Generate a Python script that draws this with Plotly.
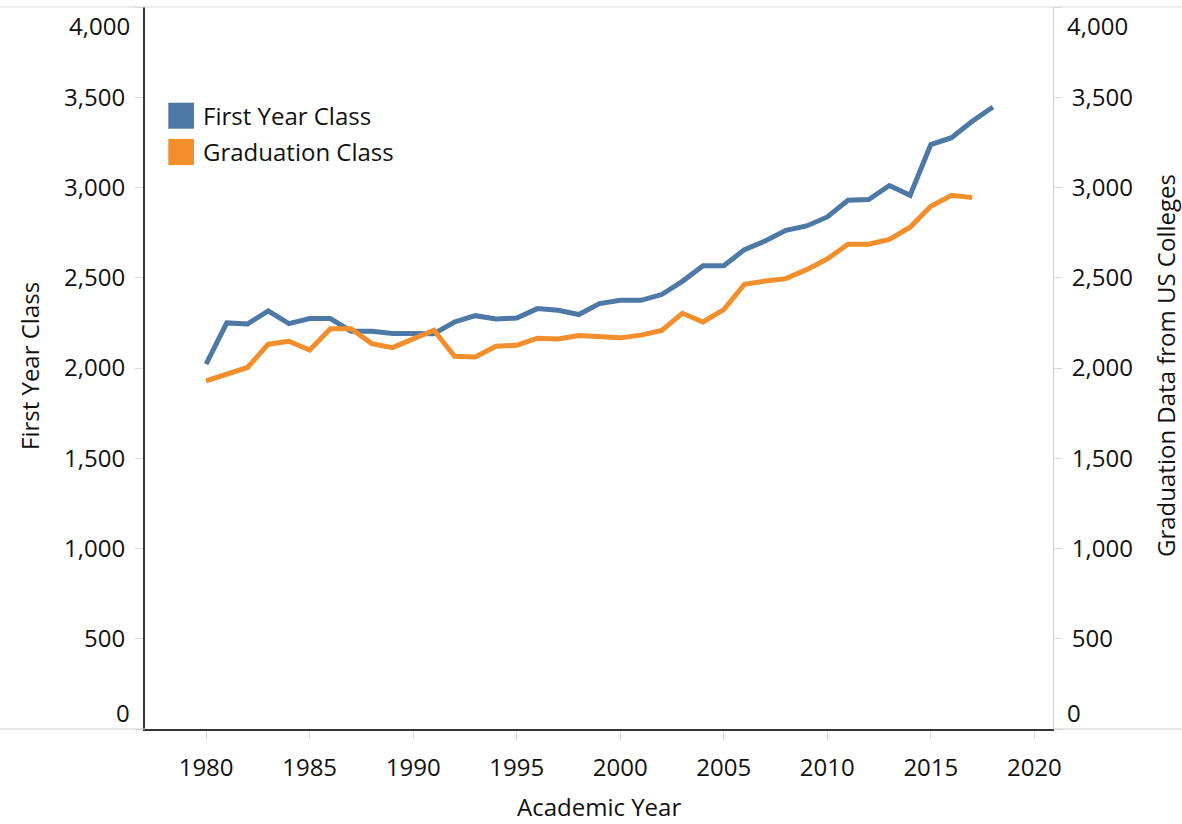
import plotly.graph_objects as go

years_first = list(range(1980, 2019))
first_year = [2021, 2250, 2244, 2316, 2246, 2274, 2274, 2204, 2204, 2191, 2191, 2190,
              2255, 2290, 2272, 2277, 2329, 2320, 2296, 2357, 2375, 2375, 2407, 2480,
              2566, 2566, 2656, 2704, 2763, 2787, 2837, 2929, 2933, 3011, 2957, 3238,
              3276, 3367, 3446]
years_grad = list(range(1980, 2018))
graduation = [1929, 1964, 2003, 2132, 2148, 2099, 2217, 2217, 2135, 2113, 2163, 2209,
              2065, 2061, 2121, 2126, 2165, 2161, 2180, 2172, 2167, 2182, 2208, 2303,
              2255, 2324, 2464, 2482, 2495, 2545, 2604, 2686, 2686, 2712, 2780, 2896,
              2957, 2944]
x_ticks = [1980, 1985, 1990, 1995, 2000, 2005, 2010, 2015, 2020]
y_ticks = [0, 500, 1000, 1500, 2000, 2500, 3000, 3500, 4000]
y_ticktext = ["", "500", "1,000", "1,500", "2,000", "2,500", "3,000", "3,500", ""]

BLUE = "#4e79a7"
ORANGE = "#f28e2b"
FONT = "Open Sans"
W, H = 1182, 824
L, R, T, B = 145, 129, 7, 95
PW, PH = W - L - R, H - T - B


def px(xp):
    return (xp - L) / PW


def py(yp):
    return (H - B - yp) / PH


fig = go.Figure()
fig.add_trace(go.Scatter(x=years_first, y=first_year, mode="lines",
                         line=dict(color=BLUE, width=5), showlegend=False, yaxis="y"))
fig.add_trace(go.Scatter(x=years_grad, y=graduation, mode="lines",
                         line=dict(color=ORANGE, width=5), showlegend=False, yaxis="y2"))

tickfont = dict(family=FONT, size=24, color="#111111")
fig.update_layout(
    width=W, height=H,
    margin=dict(l=L, r=R, t=T, b=B),
    paper_bgcolor="white", plot_bgcolor="white",
    showlegend=False,
    xaxis=dict(range=[1977.05, 2020.9], tickvals=x_ticks, ticks="outside", ticklen=8,
               tickcolor="#d9d9d9", showline=True, linecolor="#333333", linewidth=2,
               showgrid=False, zeroline=False, tickfont=tickfont, ticklabelstandoff=8),
    yaxis=dict(range=[0, 4000], tickvals=y_ticks, ticktext=y_ticktext, ticks="outside",
               ticklen=8, tickcolor="#d9d9d9", showline=True, linecolor="#333333",
               linewidth=2, showgrid=False, zeroline=False, tickfont=tickfont,
               ticklabelstandoff=5),
    yaxis2=dict(range=[0, 4000], tickvals=y_ticks, ticktext=y_ticktext, ticks="outside",
                ticklen=8, tickcolor="#d9d9d9", showline=True, linecolor="#d0d0d0",
                linewidth=1, showgrid=False, zeroline=False, tickfont=tickfont,
                overlaying="y", side="right", ticklabelstandoff=5),
)

shapes = [
    dict(type="line", xref="paper", yref="paper", x0=px(0), x1=px(W), y0=1, y1=1,
         line=dict(color="#d9d9d9", width=1)),
    dict(type="line", xref="paper", yref="paper", x0=px(0), x1=0, y0=0, y1=0,
         line=dict(color="#d0d0d0", width=1)),
    dict(type="line", xref="paper", yref="paper", x0=1, x1=px(W), y0=0, y1=0,
         line=dict(color="#d0d0d0", width=1)),
    dict(type="rect", xref="paper", yref="paper", x0=px(168.3), x1=px(194),
         y0=py(128.7), y1=py(102.7), fillcolor=BLUE, line=dict(width=0)),
    dict(type="rect", xref="paper", yref="paper", x0=px(168.3), x1=px(194),
         y0=py(165), y1=py(139), fillcolor=ORANGE, line=dict(width=0)),
]
fig.update_layout(shapes=shapes)

ann = [
    dict(text="First Year Class", xref="paper", yref="paper", x=px(201), y=py(115.7),
         xanchor="left", yanchor="middle", showarrow=False, font=tickfont),
    dict(text="Graduation Class", xref="paper", yref="paper", x=px(201), y=py(152),
         xanchor="left", yanchor="middle", showarrow=False, font=tickfont),
    dict(text="First Year Class", xref="paper", yref="paper", x=px(29), y=py(366),
         textangle=-90, xanchor="center", yanchor="middle", showarrow=False, font=tickfont),
    dict(text="Graduation Data from US Colleges", xref="paper", yref="paper", x=px(1165),
         y=py(366), textangle=-90, xanchor="center", yanchor="middle", showarrow=False,
         font=tickfont),
    dict(text="Academic Year", xref="paper", yref="paper", x=px(598.5), y=py(806),
         xanchor="center", yanchor="middle", showarrow=False, font=tickfont),
    # end tick labels kept inside the pane, as in the reference
    dict(text="0", xref="paper", yref="y", x=0, y=y_ticks[0], xanchor="right",
         yanchor="middle", xshift=-13, yshift=17, showarrow=False, font=tickfont),
    dict(text="4,000", xref="paper", yref="y", x=0, y=y_ticks[-1], xanchor="right",
         yanchor="middle", xshift=-13, yshift=-18, showarrow=False, font=tickfont),
    dict(text="0", xref="paper", yref="y2", x=1, y=y_ticks[0], xanchor="left",
         yanchor="middle", xshift=12, yshift=17, showarrow=False, font=tickfont),
    dict(text="4,000", xref="paper", yref="y2", x=1, y=y_ticks[-1], xanchor="left",
         yanchor="middle", xshift=12, yshift=-18, showarrow=False, font=tickfont),
]
fig.update_layout(annotations=ann)

fig.write_html("out.html", config={"displayModeBar": False},
               post_script="document.body.style.margin='0';document.body.style.overflow='hidden';")
